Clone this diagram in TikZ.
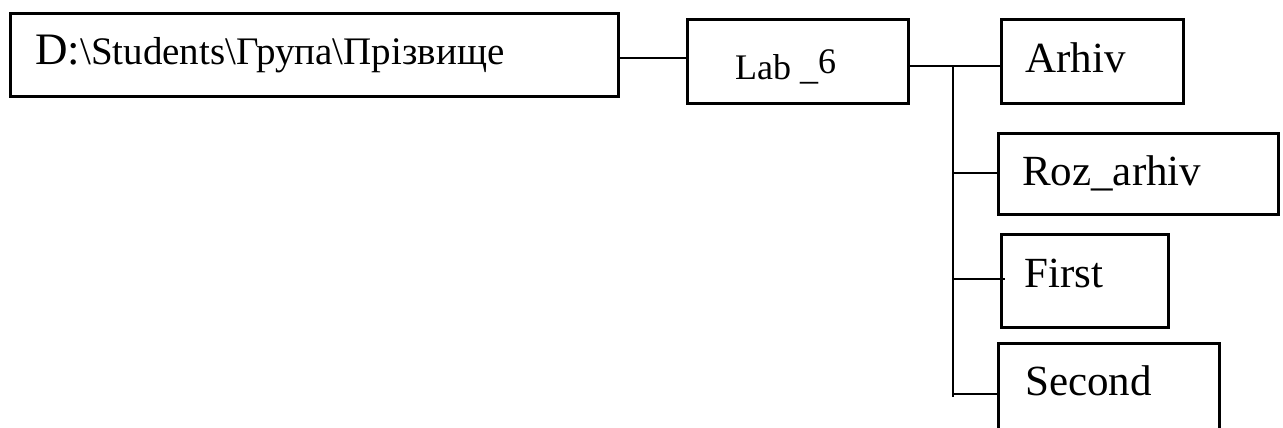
\documentclass[tikz,border=0pt]{standalone}
\usepackage{fontspec}
\setmainfont{Liberation Serif}
\begin{document}
\begin{tikzpicture}[x=1pt,y=-1pt,
  box/.style={draw,line width=2.6pt,rectangle,inner sep=0pt,anchor=north west},
  conn/.style={line width=2.6pt},
  lbl/.style={anchor=base west,inner sep=0pt,font=\fontsize{43}{48}\selectfont}]
\useasboundingbox (0,0) rectangle (1283,428);
\clip (0,0) rectangle (1283,428);
% boxes
\node[box,minimum width=608pt,minimum height=83pt] (root) at (9,12) {};
\node[box,minimum width=221pt,minimum height=84pt] (lab) at (686,18) {};
\node[box,minimum width=182pt,minimum height=84pt] (arhiv) at (1000,18) {};
\node[box,minimum width=280pt,minimum height=81pt] (roz) at (997,132) {};
\node[box,minimum width=167pt,minimum height=93pt] (first) at (1000,233) {};
\node[box,minimum width=221pt,minimum height=120pt] (second) at (997,342) {};
% labels
\node[lbl] (troot) at (35,65) {{\fontsize{45}{48}\selectfont D:}{\fontsize{39}{44}\selectfont\textbackslash Students\textbackslash Група\textbackslash Прізвище}};
\node[lbl,font=\fontsize{36}{40}\selectfont] (tlab) at (735,80) {Lab \_\raisebox{6pt}{6}};
\node[lbl] (tarhiv) at (1025,73) {Arhiv};
\node[lbl] (troz) at (1022,185) {Roz\_arhiv};
\node[lbl] (tfirst) at (1024,287) {First};
\node[lbl] (tsecond) at (1025,395) {Second};
% connectors
\coordinate (trunk) at (953,66);
\coordinate (trunkend) at (953,397);
\draw[conn] (root.east |- 0,58) -- (lab.west |- 0,58);
\draw[conn] (lab.east |- trunk) -- (arhiv.west |- trunk);
\draw[conn] (trunk) -- (trunkend);
\draw[conn] (trunk |- 0,173) -- (roz.west |- 0,173);
\draw[conn] (trunk |- 0,279) -- ([xshift=5pt]first.west |- 0,279);
\draw[conn] (trunk |- 0,394) -- (second.west |- 0,394);
\end{tikzpicture}
\end{document}
